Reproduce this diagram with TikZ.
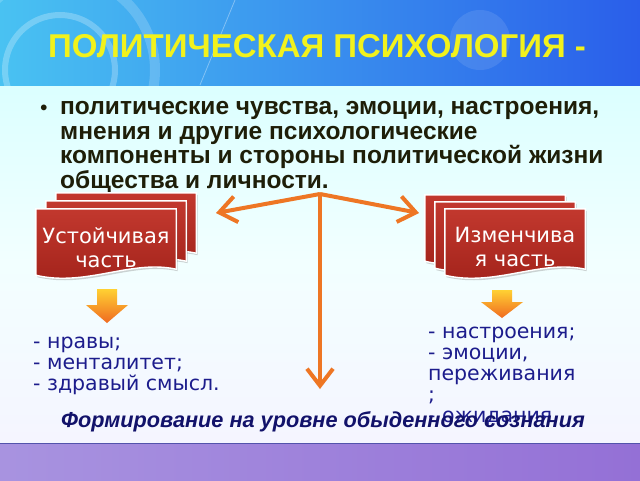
\documentclass[tikz,border=0pt]{standalone}
\usepackage{fontspec}
\setmainfont{Liberation Sans}
\newfontfamily\dvs{DejaVu Sans}
\usetikzlibrary{arrows.meta,shadows,calc}
\definecolor{titley}{HTML}{F2F21C}
\definecolor{darktext}{HTML}{1E1E08}
\definecolor{navy}{HTML}{1C1C8C}
\definecolor{navyb}{HTML}{12126A}
\definecolor{orng}{HTML}{EE7624}
\definecolor{redtop}{HTML}{C2382E}
\definecolor{redbot}{HTML}{A1221A}
\definecolor{bandL}{HTML}{A893E0}
\definecolor{bandM}{HTML}{B39CE6}
\definecolor{bandR}{HTML}{9470D6}
\definecolor{topL}{HTML}{49C2F2}
\definecolor{topM}{HTML}{1E52E8}
\definecolor{topR}{HTML}{2A5EEA}
\newcommand\docpath[1]{(#1.north west) -- (#1.north east) -- ([yshift=6pt]#1.south east) .. controls ($(#1.south east)+(-45pt,16pt)$) and ($(#1.south west)+(50pt,-12pt)$) .. (#1.south west) -- cycle}
\begin{document}
\begin{tikzpicture}[x=1pt,y=-1pt,
  pagebox/.style={minimum width=140pt, minimum height=66pt, inner sep=0pt, draw=none},
  pagefill/.style={top color=redtop, bottom color=redbot, draw=white, line width=1.4pt,
     drop shadow={opacity=0.35, shadow xshift=1.5pt, shadow yshift=-2pt}},
  boxtext/.style={font=\dvs\fontsize{21}{24}\selectfont, text=white, align=center, inner sep=0pt, anchor=base},
  listtext/.style={font=\dvs\fontsize{20.5}{21}\selectfont, text=navy, align=left, inner sep=0pt, anchor=base west},
  conn/.style={draw=orng, line width=4pt, line join=round, -{Straight Barb[length=17pt,width=26pt,line width=4pt]}},
  fatarrow/.style={top color=orange!45!yellow!80!white, bottom color=orng!90!red, draw=none}
]
\useasboundingbox (0,0) rectangle (640,480);
% --- background ---
\shade[top color=cyan!14!white, bottom color=blue!4!white, middle color=white!95!cyan] (0,85) rectangle (640,444);
\shade[left color=topL, middle color=topM, right color=topR] (0,0) rectangle (640,85);
\begin{scope}
\clip (0,0) rectangle (640,85);
\draw[white, opacity=0.25, line width=6pt] (60,70) circle (55);
\draw[white, opacity=0.18, line width=10pt] (60,70) circle (95);
\draw[white, opacity=0.35, line width=0.8pt] (200,85) -- (235,0);
\fill[white, opacity=0.10] (480,40) circle (30);
\end{scope}
\shade[left color=bandL, middle color=bandM, right color=bandR] (0,444) rectangle (640,480);
\draw[blue!35!gray, line width=1.5pt] (0,443.5) -- (640,443.5);
% --- title and definition ---
\node[font=\fontsize{33}{36}\selectfont\bfseries, text=titley] (title) at (317,46) {ПОЛИТИЧЕСКАЯ ПСИХОЛОГИЯ -};
\node[font=\fontsize{20}{24}\selectfont\bfseries, text=darktext, anchor=base] (dot) at (44,114.5) {•};
\node[font=\fontsize{24.5}{24.5}\selectfont\bfseries, text=darktext, align=left, inner sep=0pt, anchor=base west] (def) at (60,188)
  {политические чувства, эмоции, настроения,\\мнения и другие психологические\\компоненты и стороны политической жизни\\общества и личности.};
% --- page stacks ---
\node[pagebox] (lback)  at (126,226) {};
\node[pagebox] (lmid)   at (116,234) {};
\node[pagebox] (lfront) at (106,242) {};
\node[pagebox] (rback)  at (495,228) {};
\node[pagebox] (rmid)   at (505,235) {};
\node[pagebox] (rfront) at (515,242) {};
\path[pagefill] \docpath{lback};
\path[pagefill] \docpath{lmid};
\path[pagefill] \docpath{lfront};
\path[pagefill] \docpath{rback};
\path[pagefill] \docpath{rmid};
\path[pagefill] \docpath{rfront};
\node[boxtext] (ltext) at (106,267) {Устойчивая\\часть};
\node[boxtext] (rtext) at (515,266) {Изменчива\\я часть};
% --- orange connectors ---
\coordinate (j)  at (320,194);
\coordinate (lt) at (216,213);
\coordinate (rt) at (419,213);
\coordinate (bt) at (320,389);
\draw[conn] (j) -- (lt);
\draw[conn] (j) -- (rt);
\draw[conn] (j) -- (bt);
% --- fat down arrows ---
\path[fatarrow] (97,289) -- (117,289) -- (117,305) -- (128,305) -- (107,323) -- (86,305) -- (97,305) -- cycle;
\path[fatarrow] (492,290) -- (512,290) -- (512,302) -- (523,302) -- (502,318) -- (481,302) -- (492,302) -- cycle;
% --- lists ---
\node[listtext] (llist) at (33,390) {- нравы;\\- менталитет;\\- здравый смысл.};
\node[listtext] (rlist) at (428,422) {- настроения;\\- эмоции,\\переживания\\;\\- ожидания};
\node[font=\fontsize{21.7}{24}\selectfont\bfseries\itshape, text=navyb, anchor=base] (bottom) at (323,427) {Формирование на уровне обыденного сознания};
\end{tikzpicture}
\end{document}
